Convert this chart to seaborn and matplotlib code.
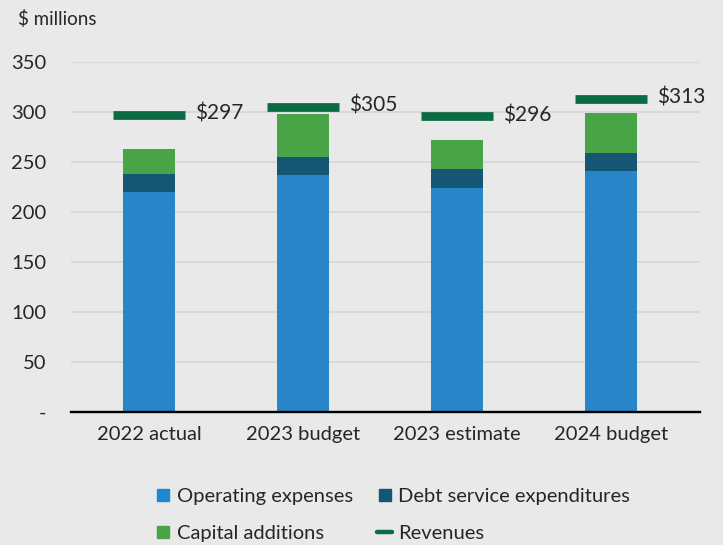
import numpy as np
import pandas as pd
import matplotlib.pyplot as plt
import seaborn as sns
from matplotlib.lines import Line2D

# values ($ millions)
categories = ["2022 actual", "2023 budget", "2023 estimate", "2024 budget"]
operating = [220, 237, 224, 241]
debt_service = [18, 18, 19, 18]
capital = [25, 43, 29, 40]
revenues = [297, 305, 296, 313]
revenue_labels = ["$297", "$305", "$296", "$313"]
y_ticks = [0, 50, 100, 150, 200, 250, 300, 350]
y_ticklabels = ["-", "50", "100", "150", "200", "250", "300", "350"]

sns.set_style("white")
plt.rcParams["font.family"] = ["Lato", "DejaVu Sans"]

bg = "#e8e9e8"
c_op = "#2886c8"
c_debt = "#145673"
c_cap = "#48a446"
c_rev = "#0b6b45"
txt = "#262626"

tabela = pd.DataFrame({"categoria": categories,
                       "op": operating,
                       "debt": debt_service,
                       "cap": capital})
tabela["op_debt"] = tabela["op"] + tabela["debt"]
tabela["total"] = tabela["op_debt"] + tabela["cap"]

fig = plt.figure(figsize=(7.23, 5.45), dpi=100, facecolor=bg)
ax = fig.add_axes([71/723, 1-412/545, (700-71)/723, 350/545])
ax.set_facecolor(bg)

# stacked bars: draw the totals first, then cover with the lower layers
sns.barplot(data=tabela, x="categoria", y="total", color=c_cap, width=0.34,
            linewidth=0, saturation=1, ax=ax)
sns.barplot(data=tabela, x="categoria", y="op_debt", color=c_debt, width=0.34,
            linewidth=0, saturation=1, ax=ax)
sns.barplot(data=tabela, x="categoria", y="op", color=c_op, width=0.34,
            linewidth=0, saturation=1, ax=ax)

# revenue markers
xs = np.arange(len(categories))
ax.hlines(revenues, xs - 0.235, xs + 0.235, color=c_rev, lw=6.3, zorder=3)
for x, r, lab in zip(xs, revenues, revenue_labels):
    ax.text(x + 0.30, r + 1, lab, ha="left", va="center", fontsize=15, color=txt)

ax.set_xlim(-0.506, 3.58)
ax.set_ylim(0, 350)
ax.set_yticks(y_ticks)
ax.set_yticklabels(y_ticklabels)
ax.set_xlabel("")
ax.set_ylabel("")
ax.yaxis.grid(True, color="#d5d6d5", lw=1.2)
ax.set_axisbelow(True)
for s in ["left", "right", "top"]:
    ax.spines[s].set_visible(False)
ax.spines["bottom"].set_color("black")
ax.spines["bottom"].set_linewidth(1.7)
ax.spines["bottom"].set_zorder(4)
ax.tick_params(axis="y", length=0, pad=18, labelsize=14.5, labelcolor=txt)
ax.tick_params(axis="x", length=0, pad=10, labelsize=14.5, labelcolor=txt)

fig.text(18/723, 1-19/545, "$ millions", ha="left", va="center", fontsize=13.5, color=txt)

handles = [
    Line2D([], [], ls="none", marker="s", markersize=8.5, color="#1e88d2"),
    Line2D([], [], ls="none", marker="s", markersize=8.5, color=c_cap),
    Line2D([], [], ls="none", marker="s", markersize=8.5, color=c_debt),
    Line2D([], [], ls="-", lw=3.2, color=c_rev),
]
labels = ["Operating expenses", "Capital additions", "Debt service expenditures", "Revenues"]
fig.legend(handles, labels, ncol=2, frameon=False, loc="center",
           bbox_to_anchor=(393/723, 1-515/545), fontsize=14.5,
           handlelength=0.75, handletextpad=0.3, columnspacing=1.2,
           labelspacing=0.95, labelcolor=txt)

fig.savefig("out.png", dpi=100, facecolor=bg)
